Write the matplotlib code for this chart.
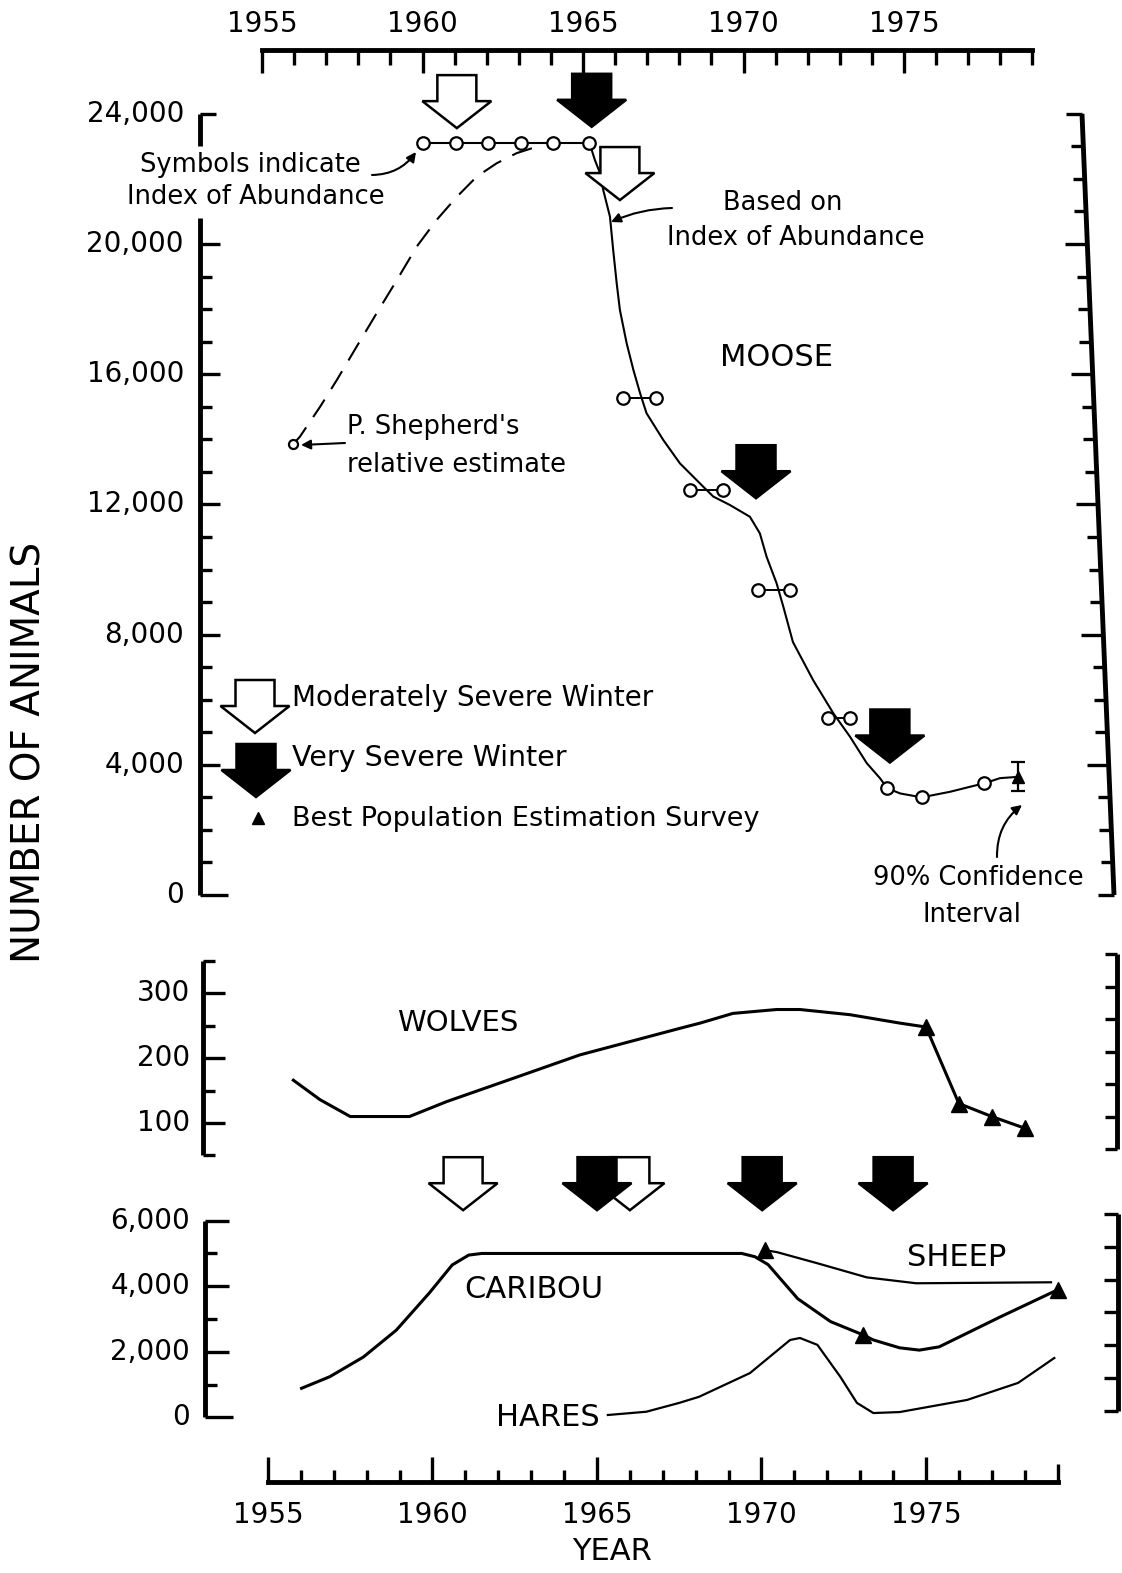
import matplotlib
matplotlib.use("Agg")
import matplotlib.pyplot as plt
import matplotlib.transforms as mtransforms
from matplotlib.patches import Polygon
import numpy as np

W, H = 1122, 1573

# ---------------- moose (upper panel) ----------------
moose_index_years = [1960.0, 1961.04, 1962.05, 1963.06, 1964.07, 1965.2]
moose_index_vals = [23110, 23110, 23110, 23110, 23110, 23110]

shepherd_year = 1955.98
shepherd_val = 13860

moose_dash_years = [1955.98, 1956.18, 1956.81, 1957.33, 1957.95, 1958.57, 1959.2,
                    1959.82, 1960.44, 1961.07, 1961.69, 1962.31, 1962.93, 1963.56]
moose_dash_vals = [13860, 14080, 15000, 15820, 16850, 17870, 18890,
                   19920, 20740, 21450, 22070, 22480, 22790, 22990]

moose_curve_years = [1965.2, 1965.37, 1965.53, 1965.63, 1965.84, 1965.94, 1966.05, 1966.15,
                     1966.36, 1966.57, 1966.78, 1966.98, 1967.5, 1968.02, 1968.75, 1969.06,
                     1969.58, 1970.2, 1970.51, 1970.72, 1971.03, 1971.24, 1971.54, 1972.17,
                     1972.8, 1973.32, 1973.84, 1974.25, 1974.48, 1974.88, 1975.55, 1976.43,
                     1977.16, 1977.5, 1977.99, 1978.56]
moose_curve_vals = [23110, 22580, 22180, 21660, 20840, 19820, 18790, 17970,
                    16950, 16130, 15410, 14800, 13980, 13260, 12540, 12240,
                    11980, 11620, 11110, 10390, 9580, 8860, 7770, 6600,
                    5580, 4860, 4050, 3590, 3280, 3120, 3000, 3170,
                    3350, 3430, 3590, 3630]

moose_pair_years = [(1966.24, 1967.27), (1968.33, 1969.35), (1970.46, 1971.45), (1972.64, 1973.32)]
moose_pair_vals = [15260, 12440, 9370, 5430]

moose_late_years = [1974.48, 1975.55, 1977.5]
moose_late_vals = [3280, 3000, 3430]

moose_survey_year = 1978.56
moose_survey_val = 3630
moose_ci_low, moose_ci_high = 3200, 4090

# winter arrows, upper panel (year, tip level)
moose_moderate_years = [1961.07, 1966.15]
moose_moderate_tips = [23560, 21350]
moose_severe_years = [1965.27, 1970.39, 1974.56]
moose_severe_tips = [23600, 12190, 4070]

# ---------------- wolves ----------------
wolf_years = [1955.77, 1956.58, 1957.5, 1959.3, 1960.43, 1962.46, 1964.48, 1967.52,
              1968.13, 1969.13, 1970.46, 1971.17, 1972.69, 1974.21, 1975.0]
wolf_vals = [166, 136, 110, 110, 133, 169, 205, 246,
             254, 269, 275, 275, 267, 254, 248]
wolf_survey_years = [1975, 1976, 1977, 1978]
wolf_survey_vals = [248, 130, 110, 92]

# ---------------- caribou / sheep / hares ----------------
caribou_years = [1956.02, 1956.88, 1957.9, 1958.9, 1959.9, 1960.6, 1961.1, 1961.5, 1969.4,
                 1969.8, 1970.2, 1971.1, 1972.1, 1973.1, 1973.4, 1974.2, 1974.8, 1975.4,
                 1977.25, 1979.0]
caribou_vals = [885, 1240, 1840, 2660, 3790, 4650, 4950, 5000, 5000,
                4900, 4660, 3620, 2920, 2510, 2360, 2120, 2050, 2150,
                3060, 3890]
caribou_survey_years = [1973.1, 1979.0]
caribou_survey_vals = [2510, 3890]

sheep_years = [1970.11, 1970.47, 1971.7, 1973.2, 1974.7, 1978.8]
sheep_vals = [5100, 5040, 4700, 4270, 4090, 4120]

hare_years = [1965.33, 1966.5, 1967.5, 1968.1, 1969.65, 1970.87, 1971.17, 1971.7,
              1972.4, 1972.9, 1973.4, 1974.2, 1976.25, 1977.8, 1978.9]
hare_vals = [70, 170, 440, 625, 1350, 2360, 2420, 2210,
             1230, 440, 130, 160, 530, 1050, 1810]

lower_moderate_years = [1960.93, 1966.0]
lower_severe_years = [1965.0, 1970.02, 1974.0]
lower_tip = 6320

year_ticks = list(range(1955, 1980))
year_labels = [1955, 1960, 1965, 1970, 1975]

# ---------------- figure & axes ----------------
fig = plt.figure(figsize=(W / 100, H / 100), dpi=100)
fig.patch.set_facecolor("white")

# image-pixel axes for frames and lettering
ax_px = fig.add_axes([0, 0, 1, 1])
ax_px.set_xlim(0, W)
ax_px.set_ylim(H, 0)
ax_px.axis("off")


def data_axes(xlim, ylim):
    ax = fig.add_axes([0, 0, 1, 1], facecolor="none")
    ax.set_xlim(*xlim)
    ax.set_ylim(*ylim)
    ax.axis("off")
    return ax


ax_m = data_axes((1965 - 583 / 32.1, 1965 + (W - 583) / 32.1),
                 (-(H - 895) / 0.03255, 895 / 0.03255))
low_x = (1955 - 268 / 32.9, 1955 + (W - 268) / 32.9)
ax_w = data_axes(low_x, (300 - (H - 993.3) / 0.6485, 300 + 993.3 / 0.6485))
ax_c = data_axes(low_x, (-(H - 1417.3) / 0.03277, 1417.3 / 0.03277))

FRAME_LW = 3.5
TICK_LW = 2.4
FS_TICK = 20


def yframe(ax, x, lo, hi, ticks, lengths, direction=1):
    """vertical frame at image x, value range lo..hi, ticks with pixel lengths"""
    bt = mtransforms.blended_transform_factory(ax_px.transData, ax.transData)
    ax_px.plot([x, x], [lo, hi], color="k", lw=FRAME_LW, transform=bt,
               solid_capstyle="butt", clip_on=False)
    for t, ln in zip(ticks, lengths):
        ax_px.plot([x, x + direction * ln], [t, t], color="k", lw=TICK_LW,
                   transform=bt, solid_capstyle="butt", clip_on=False)
    return bt


def xframe(ax, y, lo, hi, ticks, lengths, direction):
    bt = mtransforms.blended_transform_factory(ax.transData, ax_px.transData)
    ax_px.plot([lo, hi], [y, y], color="k", lw=FRAME_LW, transform=bt,
               solid_capstyle="projecting", clip_on=False)
    for t, ln in zip(ticks, lengths):
        ax_px.plot([t, t], [y, y + direction * ln], color="k", lw=TICK_LW,
                   transform=bt, solid_capstyle="butt", clip_on=False)
    return bt


# --- moose frame (left) ---
bt = yframe(ax_m, 200, 23000, 24000, [24000], [16])
mt = list(range(0, 20001, 1000))
ml = [28 if v == 0 else (20 if v % 4000 == 0 else 12) for v in mt]
yframe(ax_m, 200, 0, 20800, mt, ml)
for v in range(0, 24001, 4000):
    ax_px.text(184, v, f"{v:,}", transform=bt, ha="right", va="center",
               fontsize=FS_TICK)

# --- moose frame (right, slightly skewed) ---
def img_y(ax, v):
    disp = ax.transData.transform((0, v))
    return ax_px.transData.inverted().transform(disp)[1]


ytop, ybot = img_y(ax_m, 24000), img_y(ax_m, 0)
xtop, xbot = 1082, 1114


def skew_x(yy):
    return xtop + (yy - ytop) * (xbot - xtop) / (ybot - ytop)


ax_px.plot([xtop, xbot], [ytop, ybot], color="k", lw=FRAME_LW, solid_capstyle="butt")
for v in range(0, 24001, 1000):
    yy = img_y(ax_m, v)
    ln = 16 if v in (0, 24000) else (22 if v % 4000 == 0 else 12)
    ax_px.plot([skew_x(yy), skew_x(yy) - ln], [yy, yy], color="k", lw=TICK_LW,
               solid_capstyle="butt")

# --- top year axis (upper panel scale) ---
tl = [23 if y % 5 == 0 else 15 for y in year_ticks]
bt_top = xframe(ax_m, 50, 1955, 1979, year_ticks, tl, 1)
for y in year_labels:
    ax_px.text(y, 24, str(y), transform=bt_top, ha="center", va="center", fontsize=FS_TICK)

# --- wolves frame ---
wt = [50, 100, 150, 200, 250, 300, 350]
wl = [12 if v % 100 else 22 for v in wt]
wl[-1] = 12
bt_w = yframe(ax_w, 203, 50, 350, wt, wl)
for v in (100, 200, 300):
    ax_px.text(190, v, str(v), transform=bt_w, ha="right", va="center", fontsize=FS_TICK)
wr = list(range(60, 361, 50))
yframe(ax_w, 1117, 60, 360, wr, [12] * len(wr), direction=-1)

# --- caribou frame ---
ct = list(range(0, 6001, 1000))
cl = [28 if v == 0 else (24 if v % 2000 == 0 else 12) for v in ct]
bt_c = yframe(ax_c, 205, 0, 6000, ct, cl)
for v in range(0, 6001, 2000):
    ax_px.text(190, v, f"{v:,}", transform=bt_c, ha="right", va="center", fontsize=FS_TICK)
cr = list(range(200, 6201, 1000))
yframe(ax_c, 1118, 200, 6200, cr, [14] * len(cr), direction=-1)

# --- bottom year axis ---
bl = [25 if y % 5 == 0 else 12 for y in year_ticks]
bl[-1] = 18
bt_bot = xframe(ax_c, 1482, 1955, 1979, year_ticks, bl, -1)
for y in year_labels:
    ax_px.text(y, 1515, str(y), transform=bt_bot, ha="center", va="center", fontsize=FS_TICK)

# ---------------- winter arrows ----------------
ARROW = [(0, 0), (-34.5, 27), (-19.5, 27), (-19.5, 53), (19.5, 53), (19.5, 27), (34.5, 27)]


def winter_arrow(ax, x, y, filled, z=6):
    tr = mtransforms.Affine2D() + mtransforms.ScaledTranslation(x, y, ax.transData)
    ax.add_patch(Polygon(ARROW, closed=True, transform=tr,
                         facecolor="black" if filled else "white",
                         edgecolor="black", lw=1.8, joinstyle="miter",
                         clip_on=False, zorder=z))


# ---------------- moose ----------------
ax_m.plot(moose_dash_years, moose_dash_vals, color="k", lw=1.5, ls=(0, (10, 6)))
ax_m.plot(moose_index_years, moose_index_vals, color="k", lw=1.5)
ax_m.plot(moose_curve_years, moose_curve_vals, color="k", lw=1.5)
for (a, b), v in zip(moose_pair_years, moose_pair_vals):
    ax_m.plot([a, b], [v, v], color="k", lw=1.4)
    ax_m.plot([a, b], [v, v], "o", ms=9, mfc="white", mec="k", mew=1.6, zorder=5)
ax_m.plot(moose_index_years, moose_index_vals, "o", ms=9, mfc="white", mec="k",
          mew=1.6, zorder=5)
ax_m.plot(moose_late_years, moose_late_vals, "o", ms=9, mfc="white", mec="k",
          mew=1.6, zorder=5)
ax_m.plot([shepherd_year], [shepherd_val], "o", ms=6.5, mfc="white", mec="k",
          mew=1.6, zorder=5)
ax_m.errorbar([moose_survey_year], [moose_survey_val],
              yerr=[[moose_survey_val - moose_ci_low], [moose_ci_high - moose_survey_val]],
              fmt="^", color="k", ms=9, capsize=5, elinewidth=1.6, capthick=1.6, zorder=6)

for x, t in zip(moose_moderate_years, moose_moderate_tips):
    winter_arrow(ax_m, x, t, False)
for x, t in zip(moose_severe_years, moose_severe_tips):
    winter_arrow(ax_m, x, t, True)

# ---------------- wolves ----------------
ax_w.plot(wolf_years, wolf_vals, color="k", lw=2.2)
ax_w.plot(wolf_survey_years, wolf_survey_vals, color="k", lw=2.2, marker="^", ms=11)

# ---------------- caribou, sheep, hares ----------------
ax_c.plot(caribou_years, caribou_vals, color="k", lw=2.2)
ax_c.plot(caribou_survey_years, caribou_survey_vals, "^", color="k", ms=11)
ax_c.plot(sheep_years, sheep_vals, color="k", lw=1.6)
ax_c.plot(sheep_years[:1], sheep_vals[:1], "^", color="k", ms=11)
ax_c.plot(hare_years, hare_vals, color="k", lw=1.6)

for x in lower_moderate_years:
    winter_arrow(ax_c, x, lower_tip, False, z=6)
for x in lower_severe_years:
    winter_arrow(ax_c, x, lower_tip, True, z=7)

# ---------------- legend keys ----------------
def px_arrow(x, y, filled):
    tr = mtransforms.Affine2D() + mtransforms.ScaledTranslation(x, y, ax_px.transData)
    ax_px.add_patch(Polygon(ARROW, closed=True, transform=tr,
                            facecolor="black" if filled else "white",
                            edgecolor="black", lw=1.8, joinstyle="miter", clip_on=False))


px_arrow(255, 733, False)
px_arrow(256, 797, True)
ax_px.plot([258], [818], "^", color="k", ms=9)

# ---------------- lettering ----------------
FS_NOTE = 18.5
txt = dict(color="k", va="center")
ax_px.text(292, 698, "Moderately Severe Winter", fontsize=20, ha="left", **txt)
ax_px.text(292, 758, "Very Severe Winter", fontsize=20.5, ha="left", **txt)
ax_px.text(292, 819, "Best Population Estimation Survey", fontsize=19.5, ha="left", **txt)

ax_px.text(250, 165, "Symbols indicate", fontsize=FS_NOTE, ha="center", **txt)
ax_px.text(256, 197, "Index of Abundance", fontsize=FS_NOTE, ha="center", **txt)
ax_px.text(783, 203, "Based on", fontsize=FS_NOTE, ha="center", **txt)
ax_px.text(796, 238, "Index of Abundance", fontsize=FS_NOTE, ha="center", **txt)
ax_px.text(347, 427, "P. Shepherd's", fontsize=FS_NOTE, ha="left", **txt)
ax_px.text(347, 465, "relative estimate", fontsize=FS_NOTE, ha="left", **txt)
ax_px.text(978, 878, "90% Confidence", fontsize=FS_NOTE, ha="center", **txt)
ax_px.text(972, 915, "Interval", fontsize=FS_NOTE, ha="center", **txt)

ax_px.text(777, 358, "MOOSE", fontsize=22, ha="center", **txt)
ax_px.text(458, 1023, "WOLVES", fontsize=21, ha="center", **txt)
ax_px.text(534, 1290, "CARIBOU", fontsize=22, ha="center", **txt)
ax_px.text(548, 1418, "HARES", fontsize=22, ha="center", **txt)
ax_px.text(957, 1258, "SHEEP", fontsize=22, ha="center", **txt)
ax_px.text(612, 1552, "YEAR", fontsize=22, ha="center", **txt)
ax_px.text(30, 752, "NUMBER OF ANIMALS", fontsize=28, rotation=90, ha="center", **txt)

arr = dict(arrowstyle="-|>", color="k", lw=1.5, mutation_scale=14, shrinkA=0, shrinkB=0)
ax_px.annotate("", xy=(416, 152), xytext=(372, 175),
               arrowprops=dict(connectionstyle="arc3,rad=0.25", **arr))
ax_px.annotate("", xy=(611, 222), xytext=(672, 208),
               arrowprops=dict(connectionstyle="arc3,rad=0.1", **arr))
ax_px.annotate("", xy=(301, 445), xytext=(345, 443),
               arrowprops=dict(connectionstyle="arc3,rad=0", **arr))
ax_px.annotate("", xy=(1022, 805), xytext=(997, 857),
               arrowprops=dict(connectionstyle="arc3,rad=-0.25", **arr))

fig.savefig("out.png", dpi=100, facecolor="white")
